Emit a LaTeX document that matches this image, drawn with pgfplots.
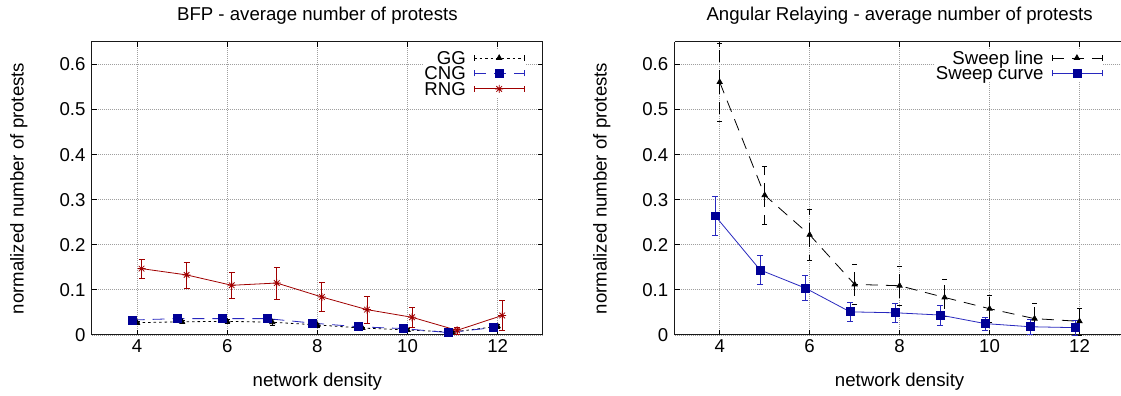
\documentclass[border=0pt]{standalone}
\usepackage{fontspec}
\setmainfont{Liberation Sans}
\usepackage{pgfplots}
\usepackage{pgfplotstable}
\pgfplotsset{compat=1.18}

\definecolor{gpred}{RGB}{160,0,0}
\definecolor{gpnavy}{RGB}{0,0,150}
\definecolor{gpblue}{RGB}{40,40,190}

\pgfdeclareplotmark{gpstar}{%
  \pgfpathmoveto{\pgfqpoint{-\pgfplotmarksize}{0pt}}\pgfpathlineto{\pgfqpoint{\pgfplotmarksize}{0pt}}%
  \pgfpathmoveto{\pgfqpoint{0pt}{-\pgfplotmarksize}}\pgfpathlineto{\pgfqpoint{0pt}{\pgfplotmarksize}}%
  \pgfpathmoveto{\pgfqpoint{-0.707\pgfplotmarksize}{-0.707\pgfplotmarksize}}\pgfpathlineto{\pgfqpoint{0.707\pgfplotmarksize}{0.707\pgfplotmarksize}}%
  \pgfpathmoveto{\pgfqpoint{-0.707\pgfplotmarksize}{0.707\pgfplotmarksize}}\pgfpathlineto{\pgfqpoint{0.707\pgfplotmarksize}{-0.707\pgfplotmarksize}}%
  \pgfusepathqstroke}

\pgfplotstableread{
x y e
4 0.027 0.004
5 0.029 0.004
6 0.030 0.004
7 0.028 0.006
8 0.022 0.004
9 0.015 0.003
10 0.011 0.003
11 0.006 0.002
12 0.019 0.004
}\GG
\pgfplotstableread{
x y e
3.9 0.033 0.003
4.9 0.036 0.004
5.9 0.036 0.005
6.9 0.036 0.008
7.9 0.026 0.006
8.9 0.018 0.004
9.9 0.014 0.005
10.9 0.005 0.002
11.9 0.016 0.004
}\CNG
\pgfplotstableread{
x y e
4.1 0.147 0.021
5.1 0.133 0.029
6.1 0.110 0.029
7.1 0.115 0.036
8.1 0.084 0.032
9.1 0.056 0.030
10.1 0.039 0.023
11.1 0.010 0.008
12.1 0.043 0.033
}\RNG
\pgfplotstableread{
x y e
4 0.561 0.086
5 0.310 0.064
6 0.222 0.057
7 0.112 0.044
8 0.109 0.043
9 0.083 0.041
10 0.058 0.031
11 0.036 0.034
12 0.030 0.030
}\SweepLine
\pgfplotstableread{
x y e
3.9 0.264 0.043
4.9 0.144 0.032
5.9 0.104 0.028
6.9 0.051 0.021
7.9 0.049 0.022
8.9 0.044 0.022
9.9 0.025 0.015
10.9 0.018 0.017
11.9 0.016 0.016
}\SweepCurve

\pgfplotsset{
  gpaxis/.style={
    scale only axis, width=451bp, height=293bp,
    anchor=south west,
    xmin=3, xmax=13, ymin=0, ymax=0.65,
    xtick={4,6,8,10,12}, ytick={0,0.1,0.2,0.3,0.4,0.5,0.6},
    clip=false,
    grid=major, grid style={dash pattern=on 1bp off 1bp, gray!75, line width=0.6bp},
    axis line style={line width=1bp, black!90},
    tick style={black, line width=0.8bp}, major tick length=5bp,
    /pgf/number format/assume math mode=true,
    yticklabel style={/pgf/number format/fixed, xshift=-3bp},
    xticklabel style={yshift=-1bp},
    every axis title/.style={at={(0.5,1.089)}, anchor=center},
    every axis x label/.style={at={(0.5,-0.16)}, anchor=center},
    every axis y label/.style={at={(-0.162,0.5)}, rotate=90, anchor=center},
    xlabel={network density}, ylabel={normalized number of protests},
    legend cell align=right, legend plot pos=right,
    legend style={at={(1,1)}, anchor=north east, xshift=-17bp, yshift=-7bp,
      draw=none, fill=white, inner sep=1bp, row sep=0bp, column sep=8bp,
      nodes={inner sep=0bp}},
    legend image code/.code={
      \draw[mark repeat=2, mark phase=2, #1] plot coordinates {(0bp,0bp) (25bp,0bp) (50bp,0bp)};
      \draw[#1, solid] (0bp,-3bp)--(0bp,3bp) (50bp,-3bp)--(50bp,3bp);
    },
  },
}

\newcommand{\st}{\rule[-4.5bp]{0pt}{18.5bp}}

\begin{document}
\begin{tikzpicture}[font=\fontsize{18.7}{22}\selectfont]
\path (0,0) rectangle (1121bp,396bp);

\begin{axis}[gpaxis, at={(92bp,61bp)}, title={BFP - average number of protests}]
\addplot[black, line width=0.8bp, dash pattern=on 2.5bp off 3bp,
  mark=triangle*, mark size=3bp, mark options={solid},
  error bars/.cd, y dir=both, y explicit,
  error bar style={solid, line width=0.6bp},
  error mark options={rotate=90, mark size=2.5bp, solid}]
  table[x=x, y=y, y error=e]{\GG};
\addlegendentry{GG\st}
\addplot[gpblue, line width=0.8bp, dash pattern=on 12bp off 8bp,
  mark=square*, mark size=4bp, mark options={solid, fill=gpnavy, draw=gpnavy},
  error bars/.cd, y dir=both, y explicit,
  error bar style={solid, line width=0.6bp},
  error mark options={rotate=90, mark size=2.5bp, solid}]
  table[x=x, y=y, y error=e]{\CNG};
\addlegendentry{CNG\st}
\addplot[gpred, line width=0.8bp,
  mark=gpstar, mark size=4bp, mark options={solid},
  error bars/.cd, y dir=both, y explicit,
  error bar style={solid, line width=0.8bp},
  error mark options={rotate=90, mark size=3bp, solid}]
  table[x=x, y=y, y error=e]{\RNG};
\addlegendentry{RNG\st}
\end{axis}

\begin{axis}[gpaxis, at={(675bp,61bp)}, width=446bp, xmax=12.911,
  axis x line*=box, axis y line*=left,
  title={Angular Relaying - average number of protests},
  every axis title/.style={at={(0.5045,1.089)}, anchor=center},
  every axis x label/.style={at={(0.5045,-0.16)}, anchor=center},
  every axis y label/.style={at={(-0.1637,0.5)}, rotate=90, anchor=center},
  legend style={xshift=0bp}]
\addplot[black, line width=0.8bp, dash pattern=on 12bp off 8bp,
  mark=triangle*, mark size=3bp, mark options={solid},
  error bars/.cd, y dir=both, y explicit,
  error bar style={line width=0.8bp, dash pattern=on 12bp off 8bp},
  error mark options={rotate=90, mark size=2.5bp, solid}]
  table[x=x, y=y, y error=e]{\SweepLine};
\addlegendentry{Sweep line\st}
\addplot[gpblue, line width=0.8bp,
  mark=square*, mark size=4bp, mark options={solid, fill=gpnavy, draw=gpnavy},
  error bars/.cd, y dir=both, y explicit,
  error bar style={solid, line width=0.8bp},
  error mark options={rotate=90, mark size=3bp, solid}]
  table[x=x, y=y, y error=e]{\SweepCurve};
\addlegendentry{Sweep curve\st}
\end{axis}
\end{tikzpicture}
\end{document}
